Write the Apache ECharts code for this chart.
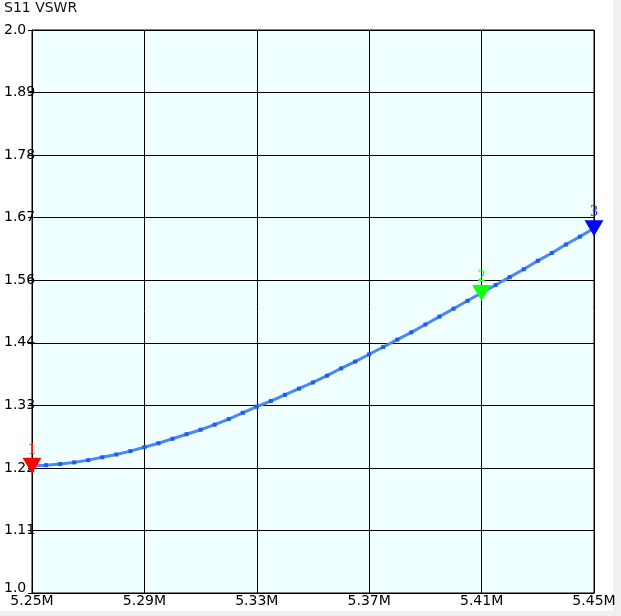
<!DOCTYPE html>
<html>
<head>
<meta charset="utf-8">
<script src="https://cdn.jsdelivr.net/npm/echarts@6/dist/echarts.min.js"></script>
<style>
html,body{margin:0;padding:0;background:#f0f0f0;}
#c{width:621px;height:616px;}
</style>
</head>
<body>
<div id="c"></div>
<script>
// Frequencies in MHz
var freqMHz = [5.250,5.255,5.260,5.265,5.270,5.275,5.280,5.285,5.290,5.295,
               5.300,5.305,5.310,5.315,5.320,5.325,5.330,5.335,5.340,5.345,
               5.350,5.355,5.360,5.365,5.370,5.375,5.380,5.385,5.390,5.395,
               5.400,5.405,5.410,5.415,5.420,5.425,5.430,5.435,5.440,5.445,5.450];
// S11 VSWR values
var vswr = [1.226,1.227,1.229,1.232,1.236,1.241,1.246,1.252,1.259,1.266,
            1.274,1.282,1.290,1.299,1.309,1.320,1.331,1.341,1.352,1.363,
            1.374,1.386,1.399,1.411,1.424,1.437,1.450,1.463,1.477,1.491,
            1.505,1.519,1.533,1.547,1.561,1.575,1.590,1.604,1.619,1.633,1.648];
// Markers
var markerNames = ['1','2','3'];
var markerFreq = [5.25, 5.41, 5.45];
var markerVswr = [1.226, 1.533, 1.648];
var markerColors = ['#ff0000','#11ff11','#0505ff'];
var markerLabelColors = ['#ff1010','#22ff22','#3535ff'];
// Tick labels
var xTickLabels = ['5.25M','5.29M','5.33M','5.37M','5.41M','5.45M'];
var yTickLabels = ['1.0','1.11','1.22','1.33','1.44','1.56','1.67','1.78','1.89','2.0'];
var title = 'S11 VSWR';

var chart = echarts.init(document.getElementById('c'), null, {renderer:'canvas'});
var FONT = 'DejaVu Sans';
var lineData = freqMHz.map(function(f,i){return [Math.round(f*1000), (vswr[i]-1)*9];});
var mk = markerNames.map(function(n,i){
  return {name:n, value:[Math.round(markerFreq[i]*1000), (markerVswr[i]-1)*9],
    itemStyle:{color:markerColors[i], opacity:1},
    label:{show:true, position:'top', distance:0, formatter:'{b}',
      fontFamily:'Liberation Serif', fontSize:16, color:markerLabelColors[i]}};
});
chart.setOption({
  backgroundColor:'#f0f0f0',
  animation:false,
  graphic:[{type:'rect', z:-100, silent:true, shape:{x:0,y:0,width:613,height:611}, style:{fill:'#ffffff'}}],
  title:{text:title, left:4, top:1, padding:0,
    textStyle:{fontFamily:FONT, fontSize:14, fontWeight:'normal', color:'#111'}},
  grid:{left:32, top:30, width:562, height:563, show:true, backgroundColor:'#f0ffff', borderColor:'#000', borderWidth:1},
  xAxis:{type:'value', min:5250, max:5450, interval:40,
    axisLine:{show:true, lineStyle:{color:'#000', width:1}},
    axisTick:{show:false},
    splitLine:{show:true, lineStyle:{color:'#000', width:1}},
    axisLabel:{margin:1, fontFamily:FONT, fontSize:14, color:'#000',
      formatter:function(v){ var k=Math.round((v-5250)/40); return xTickLabels[k]; }}
  },
  yAxis:{type:'value', min:0, max:9, interval:1,
    axisLine:{show:true, lineStyle:{color:'#000', width:1}},
    axisTick:{show:true, length:4, lineStyle:{color:'#000'}},
    splitLine:{show:true, lineStyle:{color:'#000', width:1}},
    axisLabel:{margin:28, align:'left', verticalAlign:'middle', fontFamily:FONT, fontSize:14, color:'#000',
      formatter:function(v){ var k=Math.round(v); return k===0 ? '{b|'+yTickLabels[k]+'}' : yTickLabels[k]; },
      rich:{b:{fontFamily:FONT, fontSize:14, color:'#000', padding:[0,0,9,0]}}}
  },
  series:[
    {type:'line', data:lineData,
      lineStyle:{color:'#4a88f2', width:3},
      symbol:'rect', symbolSize:4, showSymbol:true,
      itemStyle:{color:'#1c5ef0'}, z:2},
    {type:'scatter', data:mk,
      symbol:'triangle', symbolRotate:180, symbolSize:[19,16], z:3,
      itemStyle:{opacity:1}}
  ]
});
</script>
</body>
</html>
